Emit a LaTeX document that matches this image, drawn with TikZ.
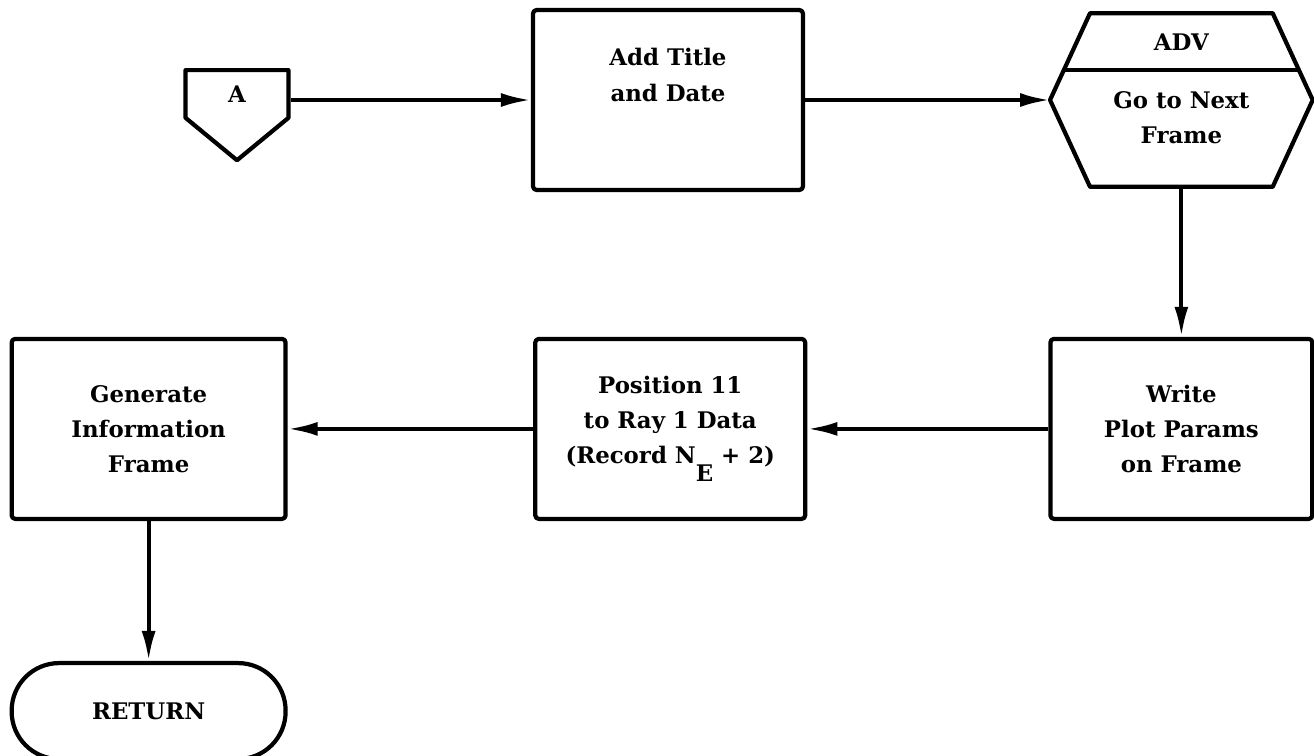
\documentclass[tikz,border=0pt]{standalone}
\usepackage{fontspec}
\setmainfont{DejaVu Serif}
\usetikzlibrary{shapes.symbols, arrows.meta, positioning, calc}
\tikzset{
	blk/.style    ={rectangle, rounded corners=2pt, draw=black, line width=2.4pt, minimum width=5.4cm, minimum height=3.6cm, align=center},
	txt/.style    ={align=center, inner sep=0pt},
	offpage/.style={signal, signal to=south, signal from=nowhere, signal pointer angle=101, draw=black, line width=2.4pt, minimum width=2.06cm, minimum height=1.1cm, inner sep=0pt},
	term/.style   ={rectangle, rounded corners=0.95cm, draw=black, line width=2.4pt, minimum width=5.48cm, minimum height=1.92cm},
	hexbox/.style ={rectangle, minimum width=5.24cm, minimum height=3.46cm},
	sig/.style    ={-{Latex[length=6mm, width=2.8mm]}, line width=2.2pt},
}

\begin{document}
\begin{tikzpicture}[x=0.02cm, y=-0.02cm, font=\fontsize{13}{20}\selectfont\bfseries, line join=round]
	\useasboundingbox (0,0) rectangle (1314,755);
	\node[offpage, anchor=north] (a) at (237,68) {A};
	\node[blk] (t) at (668,100) {};
	\node[txt] (tl) at ([yshift=0.5cm]t.center) {Add Title\\and Date};
	\node[hexbox, right=4.9cm of t] (h) {};
	\draw[line width=2.4pt] (h.west) -- ([xshift=0.8cm]h.north west) coordinate (htl) -- ([xshift=-0.8cm]h.north east) coordinate (htr) -- (h.east) -- ([xshift=-0.8cm]h.south east) -- ([xshift=0.8cm]h.south west) -- cycle;
	\draw[line width=2.4pt] ($(h.west)!0.35!(htl)$) -- ($(h.east)!0.35!(htr)$);
	\node[txt] (hl) at ([yshift=1.16cm]h.center) {ADV};
	\node[txt] (hm) at ([yshift=-0.36cm]h.center) {Go to Next\\Frame};
	\node[blk, below=3cm of h, minimum width=5.24cm] (w) {Write\\Plot Params\\on Frame};
	\node[blk, left=4.82cm of w] (p) {Position 11\\to Ray 1 Data\\(Record N\raisebox{-0.8em}{E} + 2)};
	\node[blk, left=4.91cm of p, minimum width=5.48cm] (g) {Generate\\Information\\Frame};
	\node[term, below=2.8cm of g] (r) {RETURN};
	\draw[sig] (a.east |- t.west) -- (t.west);
	\draw[sig] (t.east) -- (h.west);
	\draw[sig] (h.south) -- (w.north);
	\draw[sig] (w.west) -- (p.east);
	\draw[sig] (p.west) -- (g.east);
	\draw[sig] (g.south) -- (r.north);
\end{tikzpicture}
\end{document}
